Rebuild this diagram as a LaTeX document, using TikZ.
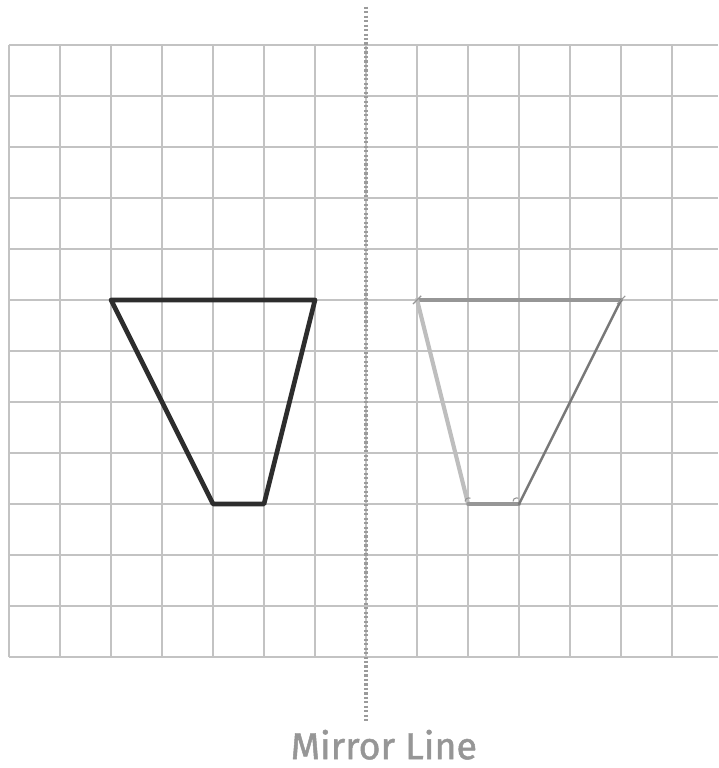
\documentclass[tikz,border=0pt]{standalone}
\usepackage{fontspec}
\setmainfont{Fira Sans}
\newfontfamily\mirrorlabelfont[FakeBold=1.3]{Fira Sans}
\definecolor{gridc}{RGB}{195,195,195}
\definecolor{mirrorc}{RGB}{155,155,155}
\definecolor{shapec}{RGB}{45,45,45}
\definecolor{pencilA}{RGB}{150,150,150}
\definecolor{pencilB}{RGB}{190,190,190}
\definecolor{pencilC}{RGB}{120,120,120}
\definecolor{textc}{RGB}{150,150,150}
\begin{document}
\begin{tikzpicture}[x=1cm,y=1cm,
  gridline/.style={draw=gridc,line width=1pt},
  mirrorline/.style={draw=mirrorc,line width=1.8pt,dash pattern=on 1.2pt off 1.3pt},
  origshape/.style={draw=shapec,line width=2.6pt,line join=round,line cap=round},
  pencil/.style={line width=1.8pt,line cap=round}]
\useasboundingbox (-0.176,-2.176) rectangle (13.902,12.88);
% grid
\foreach \i in {0,...,13} \draw[gridline] (\i,0) -- (\i,12);
\foreach \j in {0,...,12} \draw[gridline] (0,\j) -- (13.902,\j);
% mirror line
\coordinate (mtop) at (7,12.75);
\coordinate (mbot) at (7,-1.29);
\draw[mirrorline] (mtop) -- (mbot);
\node[text=textc,font=\mirrorlabelfont\fontsize{21}{24}\selectfont] (label) at (7.35,-1.72) {Mirror Line};
% original shape
\coordinate (a) at (2,7);
\coordinate (b) at (6,7);
\coordinate (c) at (5,3);
\coordinate (d) at (4,3);
\draw[origshape] (a) -- (b) -- (c) -- (d) -- cycle;
% reflected shape
\coordinate (ra) at (12,7);
\coordinate (rb) at (8,7);
\coordinate (rc) at (9,3);
\coordinate (rd) at (10,3);
\draw[pencil,draw=pencilA,line width=2.3pt] (rb) -- (ra);
\draw[pencil,draw=pencilB,line width=2.3pt] (rb) -- (rc);
\draw[pencil,draw=pencilA,line width=2pt] (rc) -- (rd);
\draw[pencil,draw=pencilC,line width=1.4pt] (rd) -- (ra);
% small pencil ticks at vertices
\draw[draw=pencilA,line width=0.6pt] (rb) ++(-0.08,-0.08) -- ++(0.16,0.16);
\draw[draw=pencilA,line width=0.6pt] (ra) ++(-0.08,-0.08) -- ++(0.16,0.16);
\draw[draw=pencilA,line width=0.6pt] (rc) ++(-0.06,0.05) arc (180:60:0.07);
\draw[draw=pencilA,line width=0.6pt] (rd) ++(-0.12,0.05) arc (180:60:0.07);
\end{tikzpicture}
\end{document}
